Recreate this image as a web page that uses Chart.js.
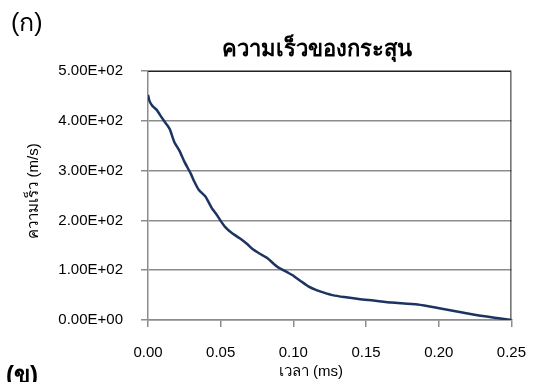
<!DOCTYPE html>
<html>
<head>
<meta charset="utf-8">
<script src="https://cdn.jsdelivr.net/npm/chart.js@4"></script>
<style>
  html, body { margin: 0; padding: 0; background: #fff; }
  #wrap { width: 543px; height: 382px; position: relative; }
</style>
</head>
<body>
<div id="wrap"><canvas id="velocityChart"></canvas></div>
<script>
// time (ms) and bullet velocity (m/s)
const timeMs = [0, 0.001, 0.003, 0.006, 0.008, 0.011, 0.013, 0.015, 0.018, 0.0216,
    0.025, 0.0294, 0.032, 0.035, 0.0395, 0.044, 0.0474, 0.050, 0.053, 0.0575,
    0.0631, 0.068, 0.0721, 0.077, 0.0822, 0.0889, 0.0957, 0.100, 0.1047, 0.110,
    0.1159, 0.121, 0.127, 0.135, 0.145, 0.155, 0.1676, 0.1855, 0.2013, 0.2237,
    0.240, 0.250];
const velocity = [452, 440, 430, 422, 413, 400, 392, 383, 358, 340,
    318, 294, 277, 261, 248, 224, 211, 199, 187, 175,
    164, 153, 142, 133, 124, 107, 96, 89, 79, 68,
    60, 55, 50, 46, 42, 39, 35, 31, 23, 11,
    4, 0];

const chartTitle = 'ความเร็วของกระสุน';
const xTitle = 'เวลา (ms)';
const yTitle = 'ความเร็ว (m/s)';
const panelTop = '(ก)';
const panelBottom = '(ข)';

const FONT = "'Liberation Sans', Arial, sans-serif";
const GRID = '#8c8c8c';

function sci(v) {
    if (v === 0) return '0.00E+00';
    const e = Math.floor(Math.log10(Math.abs(v)));
    const m = v / Math.pow(10, e);
    return m.toFixed(2) + 'E' + (e < 0 ? '-' : '+') + String(Math.abs(e)).padStart(2, '0');
}

// titles and panel labels sit off-centre in the original, so draw them here
const extras = {
    id: 'extras',
    afterDraw(chart) {
        const ctx = chart.ctx;
        const a = chart.chartArea;
        ctx.save();
        // dark frame on top and right
        ctx.strokeStyle = '#222';
        ctx.lineWidth = 1;
        ctx.beginPath();
        ctx.moveTo(a.left, a.top + 0.5);
        ctx.lineTo(a.right - 0.5, a.top + 0.5);
        ctx.lineTo(a.right - 0.5, a.bottom);
        ctx.stroke();

        ctx.fillStyle = '#000';
        ctx.textBaseline = 'middle';
        ctx.textAlign = 'center';
        ctx.font = 'bold 22px ' + FONT;
        ctx.fillText(chartTitle, 317, 50);

        ctx.font = '15px ' + FONT;
        ctx.fillText(xTitle, 311, 372);

        ctx.save();
        ctx.translate(34, 191);
        ctx.rotate(-Math.PI / 2);
        ctx.font = '15px ' + FONT;
        ctx.fillText(yTitle, 0, 0);
        ctx.restore();

        ctx.textAlign = 'left';
        ctx.font = '25px ' + FONT;
        ctx.fillText(panelTop, 11, 24);
        ctx.font = 'bold 24px ' + FONT;
        ctx.fillText(panelBottom, 6, 376);
        ctx.restore();
    }
};

new Chart(document.getElementById('velocityChart'), {
    type: 'line',
    data: {
        datasets: [{
            data: timeMs.map((t, i) => ({ x: t, y: velocity[i] })),
            borderColor: '#1b3461',
            borderWidth: 2.5,
            pointRadius: 0,
            tension: 0.2,
            fill: false
        }]
    },
    options: {
        responsive: true,
        maintainAspectRatio: false,
        animation: false,
        layout: { padding: { top: 71, right: 24, left: 0, bottom: 0 } },
        plugins: {
            legend: { display: false },
            tooltip: { enabled: false }
        },
        scales: {
            x: {
                type: 'linear',
                min: 0,
                max: 0.25,
                afterFit(scale) { scale.height = 62; },
                ticks: {
                    stepSize: 0.05,
                    padding: 17,
                    maxRotation: 0,
                    color: '#000',
                    font: { family: FONT, size: 15 },
                    callback: v => v.toFixed(2)
                },
                grid: { drawOnChartArea: false, drawTicks: true, tickLength: 7, color: GRID, lineWidth: 1.5 },
                border: { color: GRID, width: 1.5 }
            },
            y: {
                min: 0,
                max: 500,
                afterFit(scale) { scale.width = 148; },
                ticks: {
                    stepSize: 100,
                    padding: 18,
                    color: '#000',
                    font: { family: FONT, size: 15 },
                    callback: v => sci(v)
                },
                grid: { color: GRID, lineWidth: 1.5, tickLength: 7 },
                border: { color: GRID, width: 1.5 }
            }
        }
    },
    plugins: [extras]
});
</script>
</body>
</html>
